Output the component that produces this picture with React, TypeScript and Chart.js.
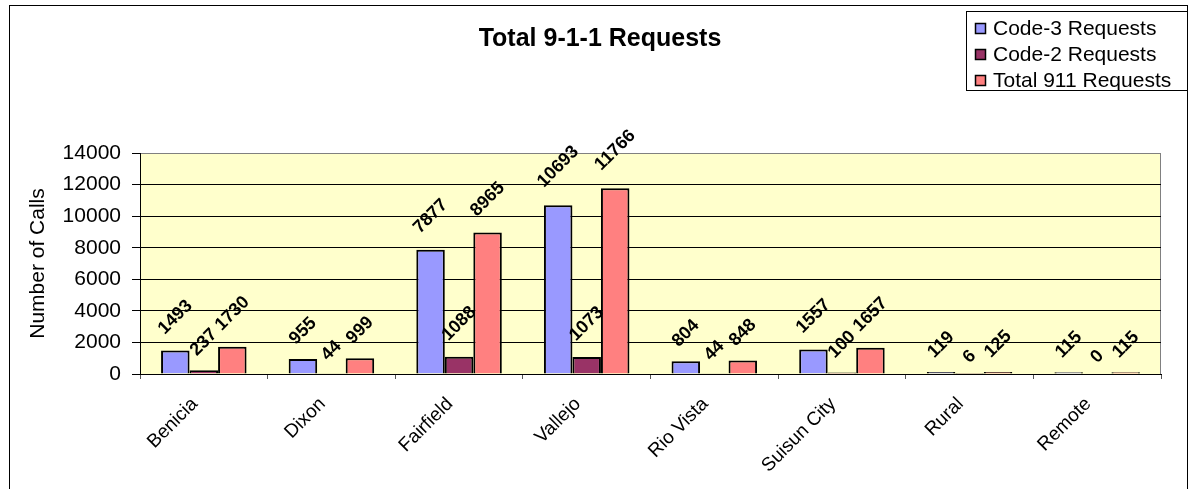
import React, { useEffect, useRef } from "react";
import { Chart, registerables } from "chart.js";

Chart.register(...registerables);

const categories = ["Benicia", "Dixon", "Fairfield", "Vallejo", "Rio Vista", "Suisun City", "Rural", "Remote"];
const code3Requests = [1493, 955, 7877, 10693, 804, 1557, 119, 115];
const code2Requests = [237, 44, 1088, 1073, 44, 100, 6, 0];
const total911Requests = [1730, 999, 8965, 11766, 848, 1657, 125, 115];
const seriesNames = ["Code-3 Requests", "Code-2 Requests", "Total 911 Requests"];
const seriesColors = ["#9999FF", "#993366", "#FF8080"];
const chartTitle = "Total 9-1-1 Requests";
const yAxisTitle = "Number of Calls";
const yMin = 0;
const yMax = 14000;
const yStep = 2000;

const FONT = '"Liberation Sans", Arial, sans-serif';

const decorPlugin = {
  id: "decor",
  beforeDraw(chart: any) {
    const { ctx, chartArea: a } = chart;
    ctx.save();
    ctx.fillStyle = "#ffffff";
    ctx.fillRect(0, 0, chart.width, chart.height);
    // outer border
    ctx.strokeStyle = "#000000";
    ctx.lineWidth = 1;
    ctx.strokeRect(9.5, 5.5, 1178, 600);
    // plot background
    ctx.fillStyle = "#FFFFCC";
    ctx.fillRect(a.left, a.top, a.right - a.left, a.bottom - a.top);
    ctx.strokeStyle = "#808080";
    ctx.beginPath();
    ctx.moveTo(a.right - 0.5, a.top);
    ctx.lineTo(a.right - 0.5, a.bottom);
    ctx.stroke();
    // title
    ctx.fillStyle = "#000000";
    ctx.font = `bold 25px ${FONT}`;
    ctx.textAlign = "center";
    ctx.textBaseline = "middle";
    ctx.fillText(chartTitle, 600, 39);
    ctx.restore();
  },
  afterDatasetsDraw(chart: any) {
    const { ctx } = chart;
    ctx.save();
    ctx.fillStyle = "#000000";
    ctx.font = `bold 18px ${FONT}`;
    ctx.textAlign = "center";
    ctx.textBaseline = "middle";
    chart.data.datasets.forEach((ds: any, i: number) => {
      const meta = chart.getDatasetMeta(i);
      meta.data.forEach((el: any, j: number) => {
        const txt = String(ds.data[j]);
        const w = ctx.measureText(txt).width;
        const off = 12 + 0.53 * w;
        ctx.save();
        ctx.translate(el.x, el.y - off);
        ctx.rotate(-Math.PI / 4);
        ctx.fillText(txt, 0, 0);
        ctx.restore();
      });
    });
    ctx.restore();
  },
  afterDraw(chart: any) {
    const { ctx } = chart;
    ctx.save();
    // legend
    ctx.fillStyle = "#ffffff";
    ctx.fillRect(966, 11, 222, 80);
    ctx.strokeStyle = "#000000";
    ctx.lineWidth = 1;
    ctx.strokeRect(966.5, 11.5, 221, 79);
    ctx.font = `21px ${FONT}`;
    ctx.textAlign = "left";
    ctx.textBaseline = "middle";
    chart.data.datasets.forEach((ds: any, i: number) => {
      const y = 28 + i * 26;
      ctx.fillStyle = seriesColors[i];
      ctx.fillRect(975, y - 5, 11, 11);
      ctx.strokeStyle = "#000000";
      ctx.lineWidth = 1.5;
      ctx.strokeRect(975.5, y - 4.5, 10, 10);
      ctx.fillStyle = "#000000";
      ctx.fillText(ds.label, 993, y + 1);
    });
    ctx.restore();
  },
};

export default function App() {
  const canvasRef = useRef<HTMLCanvasElement | null>(null);

  useEffect(() => {
    document.body.style.margin = "0";
    const canvas = canvasRef.current;
    if (!canvas) return;
    const seriesData = [code3Requests, code2Requests, total911Requests];
    const chart = new Chart(canvas, {
      type: "bar",
      data: {
        labels: categories,
        datasets: seriesData.map((d, i) => ({
          label: seriesNames[i],
          data: d,
          backgroundColor: seriesColors[i],
          borderColor: "#000000",
          borderWidth: 2,
          categoryPercentage: 0.67,
          barPercentage: 1,
        })),
      },
      options: {
        responsive: false,
        animation: false,
        devicePixelRatio: 1,
        layout: { padding: { left: 0, right: 33, top: 153, bottom: 0 } },
        plugins: {
          legend: { display: false },
          title: { display: false },
          tooltip: { enabled: false },
        },
        scales: {
          x: {
            offset: true,
            grid: {
              offset: true,
              drawOnChartArea: false,
              drawTicks: true,
              tickLength: 5,
              color: "#555555",
            },
            border: { color: "#000000", width: 1 },
            ticks: {
              font: { family: FONT, size: 19 },
              color: "#000000",
              minRotation: 45,
              maxRotation: 45,
              autoSkip: false,
              padding: 14,
              labelOffset: -9,
            },
            afterFit: (s: any) => {
              s.height = 115;
            },
          },
          y: {
            min: yMin,
            max: yMax,
            ticks: {
              stepSize: yStep,
              font: { family: FONT, size: 21 },
              color: "#000000",
              padding: 11,
              callback: (v: any) => String(v),
            },
            grid: {
              color: (c: any) => (c.tick && c.tick.value === yMax ? "#808080" : "#000000"),
              tickColor: "#000000",
              tickLength: 8,
            },
            border: { color: "#000000", width: 1 },
            title: {
              display: true,
              text: yAxisTitle,
              font: { family: FONT, size: 21 },
              color: "#000000",
              padding: { top: 26, bottom: 0 },
            },
            afterFit: (s: any) => {
              s.width = 140;
            },
          },
        },
      },
      plugins: [decorPlugin],
    } as any);
    return () => chart.destroy();
  }, []);

  return (
    <div style={{ position: "absolute", left: 0, top: 0, width: 1194, height: 489 }}>
      <canvas ref={canvasRef} width={1194} height={489} style={{ display: "block" }} />
    </div>
  );
}
